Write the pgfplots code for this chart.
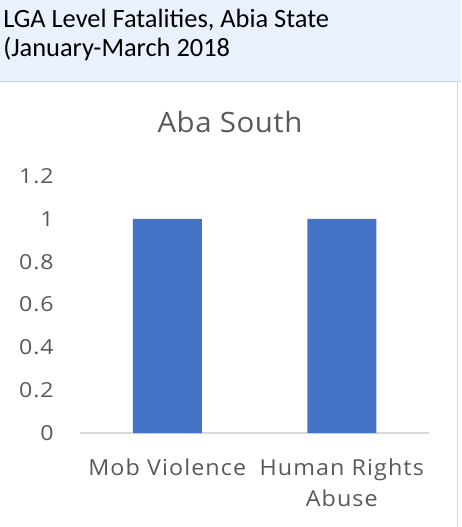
\documentclass[border=0pt]{standalone}
\usepackage{fontspec}
\setmainfont{Open Sans}
\newfontfamily\headfont{Carlito}
\newfontfamily\tickfont{Open Sans}[FakeStretch=1.12,LetterSpace=5]
\newfontfamily\labfont{Open Sans}[FakeStretch=1.06,LetterSpace=5]
\newfontfamily\titfont{Open Sans}[FakeStretch=1.05,LetterSpace=2]
\usepackage{pgfplots}
\pgfplotsset{compat=1.18}
\definecolor{barblue}{HTML}{4472C4}
\definecolor{txtgray}{HTML}{595959}
\definecolor{axgray}{HTML}{D9D9D9}
\definecolor{headbg}{HTML}{E8F1FC}
\definecolor{sepgray}{HTML}{CFCFCF}

\begin{document}
\begin{tikzpicture}[x=0.75pt,y=-0.75pt]
% page frame, in pixels from the top left
\path[use as bounding box] (0,0) rectangle (461,527);
\fill[headbg] (0,0) rectangle (461,81);
\draw[sepgray, line width=0.75pt] (0,81.5) -- (461,81.5);
\draw[axgray, line width=0.75pt] (457,82) -- (457,527);
\node[anchor=base west, inner sep=0pt, font=\headfont\fontsize{19.8}{23}\selectfont] at (3,28) {LGA Level Fatalities, Abia State};
\node[anchor=base west, inner sep=0pt, font=\headfont\fontsize{19.8}{23}\selectfont] at (3,57) {(January-March 2018};
\node[anchor=base, inner sep=0pt, font=\titfont\fontsize{21}{25}\selectfont, text=txtgray] at (230,133) {Aba South};

\begin{axis}[
    at={(60pt,-324.75pt)}, anchor=south west,
    scale only axis, width=261.75pt, height=192.75pt,
    xmin=-0.5, xmax=1.5, ymin=0, ymax=1.2,
    axis x line*=bottom, axis y line*=left,
    x axis line style={-, axgray, line width=1.1pt},
    y axis line style={draw=none},
    major tick length=0pt,
    xtick={0,1}, xticklabels={Mob Violence,{Human Rights\\Abuse}},
    ytick={0,0.2,0.4,0.6,0.8,1,1.2},
    yticklabels={0,0.2,0.4,0.6,0.8,1,1.2},
    yticklabel style={font=\tickfont\fontsize{15.5}{18}\selectfont, text=txtgray, anchor=east, inner sep=0pt, xshift=-19.5pt},
    xticklabel style={font=\labfont\fontsize{16.5}{23.25}\selectfont, text=txtgray, align=center, anchor=north, inner sep=0pt, yshift=-19.5pt},
]
\addplot[ybar, fill=barblue, draw=none, bar width=51.75pt] coordinates {(0,1) (1,1)};
\end{axis}
\end{tikzpicture}
\end{document}
